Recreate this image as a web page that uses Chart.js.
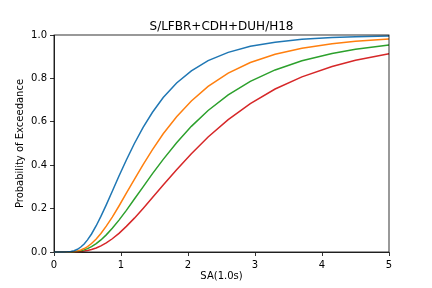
<!DOCTYPE html>
<html>
<head>
<meta charset="utf-8">
<script src="https://cdn.jsdelivr.net/npm/chart.js@4.4.1/dist/chart.umd.min.js"></script>
<style>
  html, body { margin: 0; padding: 0; background: #fff; }
  #chart { display: block; }
</style>
</head>
<body>
<canvas id="chart" width="432" height="288"></canvas>
<script>
// SA(1.0s) levels
const saLevels = [0, 0.05, 0.1, 0.15, 0.2, 0.25, 0.3, 0.35, 0.4, 0.45, 0.5, 0.56, 0.63, 0.7, 0.78, 0.87,
    0.97, 1.08, 1.2, 1.33, 1.47, 1.63, 1.83, 2.05, 2.3, 2.6, 2.93, 3.3, 3.7, 4.15, 4.5, 5.0];

// probability of exceedance, one array per damage state
const ds1 = [0, 0, 0, 0.0001, 0.0006, 0.0022, 0.0059, 0.0125, 0.023, 0.037, 0.056, 0.083, 0.121, 0.164, 0.217, 0.280,
    0.350, 0.424, 0.500, 0.574, 0.644, 0.712, 0.779, 0.835, 0.882, 0.920, 0.948, 0.967, 0.980, 0.988, 0.992, 0.995];
const ds2 = [0, 0, 0, 0, 0.0002, 0.0007, 0.0021, 0.0048, 0.0093, 0.016, 0.025, 0.039, 0.060, 0.085, 0.119, 0.161,
    0.212, 0.271, 0.335, 0.403, 0.472, 0.545, 0.623, 0.696, 0.763, 0.824, 0.873, 0.911, 0.939, 0.960, 0.971, 0.981];
const ds3 = [0, 0, 0, 0, 0.0001, 0.0005, 0.0013, 0.003, 0.0058, 0.0099, 0.0157, 0.0247, 0.0385, 0.0556, 0.079, 0.109,
    0.147, 0.192, 0.244, 0.300, 0.361, 0.427, 0.503, 0.579, 0.652, 0.724, 0.786, 0.839, 0.881, 0.915, 0.934, 0.954];
const ds4 = [0, 0, 0, 0, 0, 0.0001, 0.0005, 0.0011, 0.0023, 0.0041, 0.0068, 0.0113, 0.0186, 0.0282, 0.042, 0.061,
    0.086, 0.118, 0.156, 0.201, 0.251, 0.309, 0.379, 0.453, 0.530, 0.610, 0.684, 0.751, 0.807, 0.855, 0.884, 0.914];

const xTicks = [0, 1, 2, 3, 4, 5];
const yTicks = [0, 0.2, 0.4, 0.6, 0.8, 1.0];

const chartTitle = 'S/LFBR+CDH+DUH/H18';
const colors = ['#1f77b4', '#ff7f0e', '#2ca02c', '#d62728'];
const FONT = 'DejaVu Sans';

function toPoints(ys) {
    return saLevels.map(function (x, i) { return { x: x, y: ys[i] }; });
}

// box round the plot area and the title on top
const framePlugin = {
    id: 'frame',
    afterDraw: function (chart) {
        const a = chart.chartArea;
        const ctx = chart.ctx;
        ctx.save();
        ctx.strokeStyle = '#000';
        ctx.lineWidth = 0.8;
        ctx.strokeRect(a.left, a.top, a.right - a.left, a.bottom - a.top);
        ctx.fillStyle = '#000';
        ctx.font = '12px "' + FONT + '"';
        ctx.textAlign = 'center';
        ctx.textBaseline = 'alphabetic';
        ctx.fillText(chartTitle, (a.left + a.right) / 2, 29.5);
        ctx.restore();
    }
};

const datasets = [ds1, ds2, ds3, ds4].map(function (ys, i) {
    return {
        data: toPoints(ys),
        borderColor: colors[i],
        backgroundColor: colors[i],
        borderWidth: 1.5,
        pointRadius: 0,
        tension: 0,
        fill: false,
        clip: 2
    };
});

new Chart(document.getElementById('chart'), {
    type: 'line',
    data: { datasets: datasets },
    plugins: [framePlugin],
    options: {
        responsive: false,
        animation: false,
        layout: { padding: { left: 0, right: 43, top: 35, bottom: 0 } },
        plugins: {
            legend: { display: false },
            tooltip: { enabled: false }
        },
        scales: {
            x: {
                type: 'linear',
                min: 0,
                max: 5,
                afterFit: function (scale) { scale.height = 36; },
                afterBuildTicks: function (scale) {
                    scale.ticks = xTicks.map(function (v) { return { value: v }; });
                },
                grid: { drawOnChartArea: false, drawTicks: true, tickLength: 4, color: '#000', lineWidth: 0.8 },
                border: { display: true, color: '#000', width: 0.8 },
                ticks: {
                    color: '#000',
                    padding: 3,
                    maxRotation: 0,
                    font: { family: FONT, size: 10 },
                    callback: function (v) { return String(v); }
                },
                title: {
                    display: true,
                    text: 'SA(1.0s)',
                    color: '#000',
                    font: { family: FONT, size: 10 },
                    padding: { top: 0, bottom: 6 }
                }
            },
            y: {
                type: 'linear',
                min: 0,
                max: 1,
                afterFit: function (scale) { scale.width = 54; },
                afterBuildTicks: function (scale) {
                    scale.ticks = yTicks.map(function (v) { return { value: v }; });
                },
                grid: { drawOnChartArea: false, drawTicks: true, tickLength: 4, color: '#000', lineWidth: 0.8 },
                border: { display: true, color: '#000', width: 0.8 },
                ticks: {
                    color: '#000',
                    padding: 3,
                    font: { family: FONT, size: 10 },
                    callback: function (v) { return Number(v).toFixed(1); }
                },
                title: {
                    display: true,
                    text: 'Probability of Exceedance',
                    color: '#000',
                    font: { family: FONT, size: 10 },
                    padding: { top: 14, bottom: 0 }
                }
            }
        }
    }
});
</script>
</body>
</html>
